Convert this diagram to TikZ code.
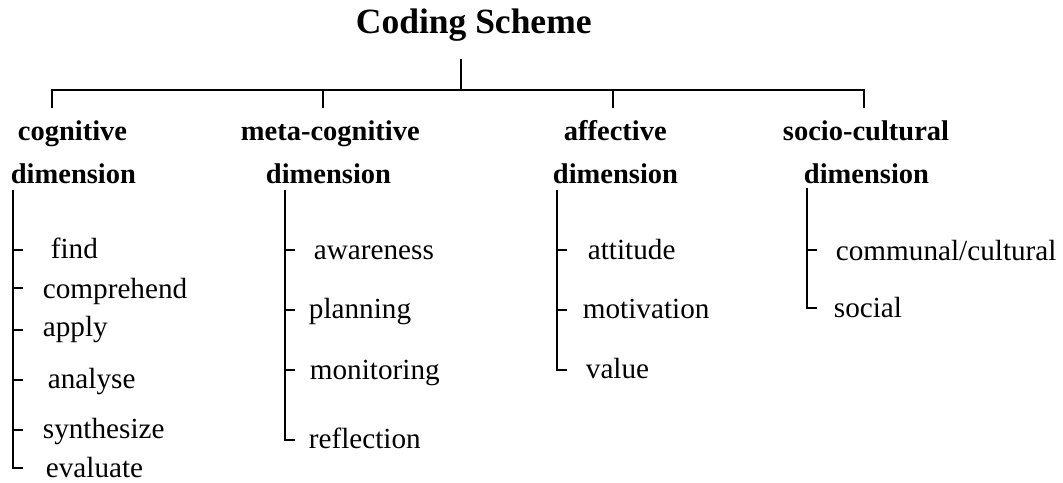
\documentclass[tikz,border=0pt]{standalone}
\usepackage{fontspec}
\setmainfont{Liberation Serif}
\usetikzlibrary{positioning}

\tikzset{
  titlebox/.style={anchor=base west, inner sep=0pt, font=\fontsize{17.75}{20}\selectfont\bfseries},
  heading/.style={anchor=base west, inner sep=0pt, font=\fontsize{14.25}{16}\selectfont\bfseries},
  item/.style={anchor=base west, inner sep=0pt, font=\fontsize{14.6}{17}\selectfont},
}

\begin{document}
\begin{tikzpicture}[x=0.5pt,y=-0.5pt,line width=0.9pt]
\useasboundingbox (0,0) rectangle (1063,482);
% title and headings
\node[titlebox] (title) at (355,33) {Coding Scheme};
\node[heading] (cog1) at (17,140) {cognitive};
\node[heading] (cog2) at (10,183) {dimension};
\node[heading] (meta1) at (240,140) {meta-cognitive};
\node[heading] (meta2) at (265,183) {dimension};
\node[heading] (aff1) at (563,140) {affective};
\node[heading] (aff2) at (552,183) {dimension};
\node[heading] (soc1) at (782,140) {socio-cultural};
\node[heading] (soc2) at (803,183) {dimension};
% tree points
\coordinate (stem) at (461,59);
\coordinate (bus) at (461,90);
\coordinate (cogdrop) at (52,108);
\coordinate (metadrop) at (323,108);
\coordinate (affdrop) at (613,108);
\coordinate (socdrop) at (864,108);
% draws top tree
\draw (stem) -- (bus);
\draw (cogdrop) -- (cogdrop |- bus) -- (socdrop |- bus) -- (socdrop);
\draw (metadrop) -- (metadrop |- bus);
\draw (affdrop) -- (affdrop |- bus);
% cognitive dimension
\coordinate (cogtop) at (13,190);
\coordinate (c1) at (13,250);
\coordinate (c2) at (13,288);
\coordinate (c3) at (13,330);
\coordinate (c4) at (13,380);
\coordinate (c5) at (13,430);
\coordinate (c6) at (13,468);
\node[item] (find) at (50,258) {find};
\node[item] (comprehend) at (42,298) {comprehend};
\node[item] (apply) at (42,336) {apply};
\node[item] (analyse) at (47,388) {analyse};
\node[item] (synthesize) at (42,438) {synthesize};
\node[item] (evaluate) at (45,477) {evaluate};
\draw (cogtop) -- (c6) -- ++(10,0);
\draw (c1) -- ++(10,0);
\draw (c2) -- ++(10,0);
\draw (c3) -- ++(10,0);
\draw (c4) -- ++(10,0);
\draw (c5) -- ++(10,0);
% meta-cognitive dimension
\coordinate (metatop) at (285,190);
\coordinate (m1) at (285,250);
\coordinate (m2) at (285,310);
\coordinate (m3) at (285,370);
\coordinate (m4) at (285,440);
\node[item] (awareness) at (313,259) {awareness};
\node[item] (planning) at (308,318) {planning};
\node[item] (monitoring) at (309,379) {monitoring};
\node[item] (reflection) at (308,448) {reflection};
\draw (metatop) -- (m4) -- ++(10,0);
\draw (m1) -- ++(10,0);
\draw (m2) -- ++(10,0);
\draw (m3) -- ++(10,0);
% affective dimension
\coordinate (afftop) at (557,190);
\coordinate (a1) at (557,250);
\coordinate (a2) at (557,310);
\coordinate (a3) at (557,370);
\node[item] (attitude) at (587,259) {attitude};
\node[item] (motivation) at (582,318) {motivation};
\node[item] (value) at (585,378) {value};
\draw (afftop) -- (a3) -- ++(10,0);
\draw (a1) -- ++(10,0);
\draw (a2) -- ++(10,0);
% socio-cultural dimension
\coordinate (soctop) at (807,188);
\coordinate (s1) at (807,250);
\coordinate (s2) at (807,308);
\node[item] (communal) at (835,260) {communal/cultural};
\node[item] (social) at (833,317) {social};
\draw (soctop) -- (s2) -- ++(10,0);
\draw (s1) -- ++(10,0);
\end{tikzpicture}
\end{document}
